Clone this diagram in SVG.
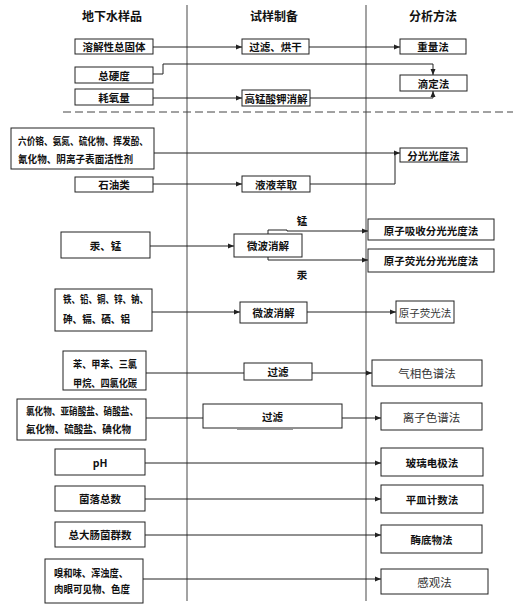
<svg xmlns="http://www.w3.org/2000/svg" width="513" height="606" viewBox="0 0 513 606">
<defs>
<marker id="ah" markerWidth="6" markerHeight="6" refX="6" refY="3" orient="auto" markerUnits="userSpaceOnUse"><path d="M0,0.5 L6,3 L0,5.5 z" fill="#222"/></marker>
<style>
.box{fill:#fff;stroke:#222;stroke-width:1}
.t{font-family:"Noto Sans CJK SC","Liberation Serif",sans-serif;font-size:10.5px;font-weight:bold;text-anchor:middle;dominant-baseline:central;fill:#111}
.l{text-anchor:start}
.n{font-weight:normal;font-size:11.5px;fill:#333}
.h{font-size:12px}
.c{fill:none;stroke:#222;stroke-width:1}
.a{marker-end:url(#ah)}
.v{stroke:#666;stroke-width:1.2}
</style>
</defs>
<rect width="513" height="606" fill="#fff"/>
<g id="frame">
<line class="v" x1="187" y1="5" x2="187" y2="601"/>
<line class="v" x1="366" y1="5" x2="366" y2="601"/>
<line x1="63" y1="112" x2="513" y2="112" stroke="#444" stroke-width="1" stroke-dasharray="8,4"/>
<text class="t h" x="112" y="15">地下水样品</text>
<text class="t h" x="274" y="15">试样制备</text>
<text class="t h" x="433" y="15">分析方法</text>
</g>
<g id="connectors">
<path class="c a" d="M153,47 H242"/>
<path class="c a" d="M309,47 H400"/>
<path class="c a" d="M153,74 H163 V64 H433 V75"/>
<path class="c a" d="M153,98 H242"/>
<path class="c a" d="M310,98 H433 V91"/>
<path class="c a" d="M154,153 H400"/>
<path class="c a" d="M153,184 H242"/>
<path class="c" d="M310,184 H395 V153"/>
<path class="c a" d="M150,246 H234"/>
<path class="c a" d="M268,234 V230 H287 V231 H368"/>
<path class="c a" d="M268,257 V260 H368"/>
<path class="c a" d="M152,312 H240"/>
<path class="c a" d="M307,312 H396"/>
<path class="c" d="M146,373 H244"/>
<path class="c a" d="M312,373 H372"/>
<path class="c" d="M146,418 H203"/>
<path class="c a" d="M342,418 H381"/>
<path class="c a" d="M145,463 H381"/>
<path class="c a" d="M145,499 H381"/>
<path class="c a" d="M145,535 H381"/>
<path class="c a" d="M143,579 H381"/>
<line x1="237" y1="429.5" x2="293" y2="429.5" stroke="#999" stroke-width="1"/>
</g>
<g id="n1"><rect class="box" x="75" y="39" width="78" height="15"/><text class="t" x="114" y="46.5">溶解性总固体</text></g>
<g id="n2"><rect class="box" x="75" y="67" width="78" height="16"/><text class="t" x="114" y="75">总硬度</text></g>
<g id="n3"><rect class="box" x="75" y="89" width="78" height="16"/><text class="t" x="114" y="97">耗氧量</text></g>
<g id="p1"><rect class="box" x="242" y="39" width="67" height="15"/><text class="t" x="275.5" y="46.5">过滤、烘干</text></g>
<g id="p2"><rect class="box" x="242" y="90" width="68" height="16"/><text class="t" x="276" y="98">高锰酸钾消解</text></g>
<g id="m1"><rect class="box" x="400" y="39" width="66" height="15"/><text class="t" x="433" y="46.5">重量法</text></g>
<g id="m2"><rect class="box" x="400" y="75" width="67" height="16"/><text class="t" x="433.5" y="83">滴定法</text></g>
<g id="n4"><rect class="box" x="11" y="128" width="143" height="41"/><text class="t l" x="18" y="140" textLength="130" lengthAdjust="spacingAndGlyphs">六价铬、氨氮、硫化物、挥发酚、</text><text class="t l" x="18" y="158" textLength="115" lengthAdjust="spacingAndGlyphs">氰化物、阴离子表面活性剂</text></g>
<g id="n5"><rect class="box" x="75" y="177" width="78" height="15"/><text class="t" x="114" y="184.5">石油类</text></g>
<g id="p3"><rect class="box" x="242" y="176" width="68" height="16"/><text class="t" x="276" y="184">液液萃取</text></g>
<g id="m3"><rect class="box" x="400" y="148" width="67" height="14"/><text class="t" x="433.5" y="155">分光光度法</text></g>
<g id="n6"><rect class="box" x="61" y="232" width="89" height="26"/><text class="t" x="105.5" y="245">汞、锰</text></g>
<g id="p4"><rect class="box" x="234" y="234" width="68" height="23"/><text class="t" x="268" y="245.5">微波消解</text></g>
<g id="m4"><rect class="box" x="368" y="219" width="126" height="21"/><text class="t" x="431" y="230.5">原子吸收分光光度法</text></g>
<g id="m5"><rect class="box" x="368" y="249" width="126" height="23"/><text class="t" x="431" y="260.5">原子荧光分光光度法</text></g>
<g id="lbl"><text class="t" x="302" y="220">锰</text><text class="t" x="302" y="274">汞</text></g>
<g id="n7"><rect class="box" x="55" y="289" width="97" height="42"/><text class="t l" x="63" y="298" textLength="85" lengthAdjust="spacingAndGlyphs">铁、铅、铜、锌、钠、</text><text class="t l" x="63" y="318" textLength="67" lengthAdjust="spacingAndGlyphs">砷、镉、硒、铝</text></g>
<g id="p5"><rect class="box" x="240" y="302" width="67" height="21"/><text class="t" x="273.5" y="312.5">微波消解</text></g>
<g id="m6"><rect class="box" x="396" y="301" width="58" height="22"/><text class="t n" x="425" y="312" style="font-size:10.5px">原子荧光法</text></g>
<g id="n8"><rect class="box" x="63" y="351" width="83" height="39"/><text class="t l" x="73" y="363" textLength="64" lengthAdjust="spacingAndGlyphs">苯、甲苯、三氯</text><text class="t l" x="73" y="382" textLength="64" lengthAdjust="spacingAndGlyphs">甲烷、四氯化碳</text></g>
<g id="p6"><rect class="box" x="244" y="363" width="68" height="17"/><text class="t" x="278" y="371.5">过滤</text></g>
<g id="m7"><rect class="box" x="372" y="360" width="110" height="26"/><text class="t n" x="427" y="373">气相色谱法</text></g>
<g id="n9"><rect class="box" x="17" y="399" width="129" height="41"/><text class="t l" x="26" y="410" textLength="112" lengthAdjust="spacingAndGlyphs">氯化物、亚硝酸盐、硝酸盐、</text><text class="t l" x="26" y="428" textLength="105" lengthAdjust="spacingAndGlyphs">氟化物、硫酸盐、碘化物</text></g>
<g id="p7"><rect class="box" x="203" y="404" width="139" height="24"/><text class="t" x="272.5" y="416">过滤</text></g>
<g id="m8"><rect class="box" x="381" y="403" width="101" height="27"/><text class="t n" x="431.5" y="416.5">离子色谱法</text></g>
<g id="n10"><rect class="box" x="55" y="449" width="90" height="26"/><text class="t" x="100" y="462">pH</text></g>
<g id="m9"><rect class="box" x="381" y="448" width="102" height="28"/><text class="t" x="432" y="462">玻璃电极法</text></g>
<g id="n11"><rect class="box" x="55" y="486" width="90" height="25"/><text class="t" x="100" y="498.5">菌落总数</text></g>
<g id="m10"><rect class="box" x="381" y="485" width="102" height="28"/><text class="t" x="432" y="499">平皿计数法</text></g>
<g id="n12"><rect class="box" x="55" y="522" width="90" height="25"/><text class="t" x="100" y="534.5">总大肠菌群数</text></g>
<g id="m11"><rect class="box" x="381" y="525" width="101" height="28"/><text class="t" x="431.5" y="539">酶底物法</text></g>
<g id="n13"><rect class="box" x="45" y="559" width="98" height="44"/><text class="t l" x="54" y="572" textLength="74" lengthAdjust="spacingAndGlyphs">嗅和味、浑浊度、</text><text class="t l" x="54" y="588" textLength="76" lengthAdjust="spacingAndGlyphs">肉眼可见物、色度</text></g>
<g id="m12"><rect class="box" x="381" y="569" width="107" height="25"/><text class="t n" x="434.5" y="581.5">感观法</text></g>
</svg>
